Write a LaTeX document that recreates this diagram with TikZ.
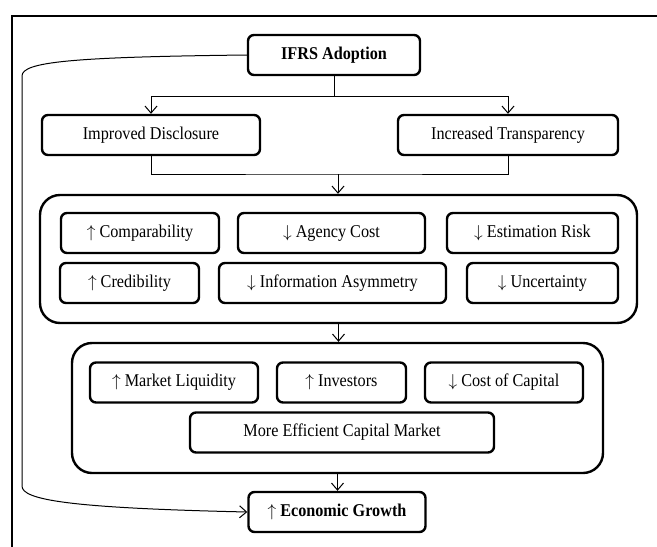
\documentclass[tikz,border=0pt]{standalone}
\usepackage{fontspec}
\setmainfont[FakeStretch=0.9]{Liberation Serif}
\usetikzlibrary{arrows.meta, positioning, calc}

\begin{document}
\begin{tikzpicture}[
    x=1pt, y=-1pt,
    box/.style={draw, line width=2.4pt, rounded corners=6pt, minimum height=40pt, inner sep=2pt, font=\fontsize{18}{21}\selectfont, align=center},
    groupbox/.style={draw, line width=2.4pt, rounded corners=20pt, inner sep=0pt},
    link/.style={line width=1pt},
    arr/.style={link, -{Straight Barb[length=7pt, width=12pt]}}
]
    \clip (0,0) rectangle (657,547);
    \draw[line width=2.5pt] (12,560) -- (12,16) -- (680,16);

    \node[box, minimum width=172pt, font=\fontsize{18}{21}\selectfont\bfseries] (ifrs) at (334,55) {IFRS Adoption};
    \node[box, minimum width=218pt] (disc) at (151,135) {Improved Disclosure};
    \node[box, minimum width=220pt] (transp) at (508,135) {Increased Transparency};

    \node[groupbox, minimum width=597pt, minimum height=128pt] (grp1) at (338.5,259) {};
    \node[box, minimum width=158pt] (comp) at (140,233) {$\uparrow$ Comparability};
    \node[box, minimum width=187pt] (agency) at (331.5,233) {$\downarrow$ Agency Cost};
    \node[box, minimum width=171pt] (est) at (532.5,233) {$\downarrow$ Estimation Risk};
    \node[box, minimum width=139pt] (cred) at (129.5,283) {$\uparrow$ Credibility};
    \node[box, minimum width=227pt] (info) at (332.5,283) {$\downarrow$ Information Asymmetry};
    \node[box, minimum width=151pt] (unc) at (542.5,283) {$\downarrow$ Uncertainty};

    \node[groupbox, minimum width=531pt, minimum height=130pt] (grp2) at (337.5,408) {};
    \node[box, minimum width=168pt] (liq) at (174,382.5) {$\uparrow$ Market Liquidity};
    \node[box, minimum width=129pt] (inv) at (341.5,382.5) {$\uparrow$ Investors};
    \node[box, minimum width=158pt] (coc) at (504,382.5) {$\downarrow$ Cost of Capital};
    \node[box, minimum width=304pt] (mecm) at (342,432.5) {More Efficient Capital Market};

    \node[box, minimum width=177pt] (growth) at (337,512) {$\uparrow$ \textbf{Economic Growth}};

    \coordinate (split) at ($(ifrs.south)+(0,20)$);
    \coordinate (join) at (338,174);
    \draw[link] (ifrs.south) -- (split);
    \draw[arr] (split) -| (disc.north);
    \draw[arr] (split) -| (transp.north);
    \draw[link] (disc.south) |- (join) -| (transp.south);
    \draw[arr] (join) -- (join |- grp1.north);
    \draw[arr] (grp1.south) -- (grp1.south |- grp2.north);
    \draw[arr] (grp2.south) -- (grp2.south |- growth.north);
    \draw[arr] (ifrs.west) .. controls (70,57) and (22,62) .. (22,76) -- (22,486)
        .. controls (22,500) and (70,508) .. (growth.west);
\end{tikzpicture}
\end{document}
